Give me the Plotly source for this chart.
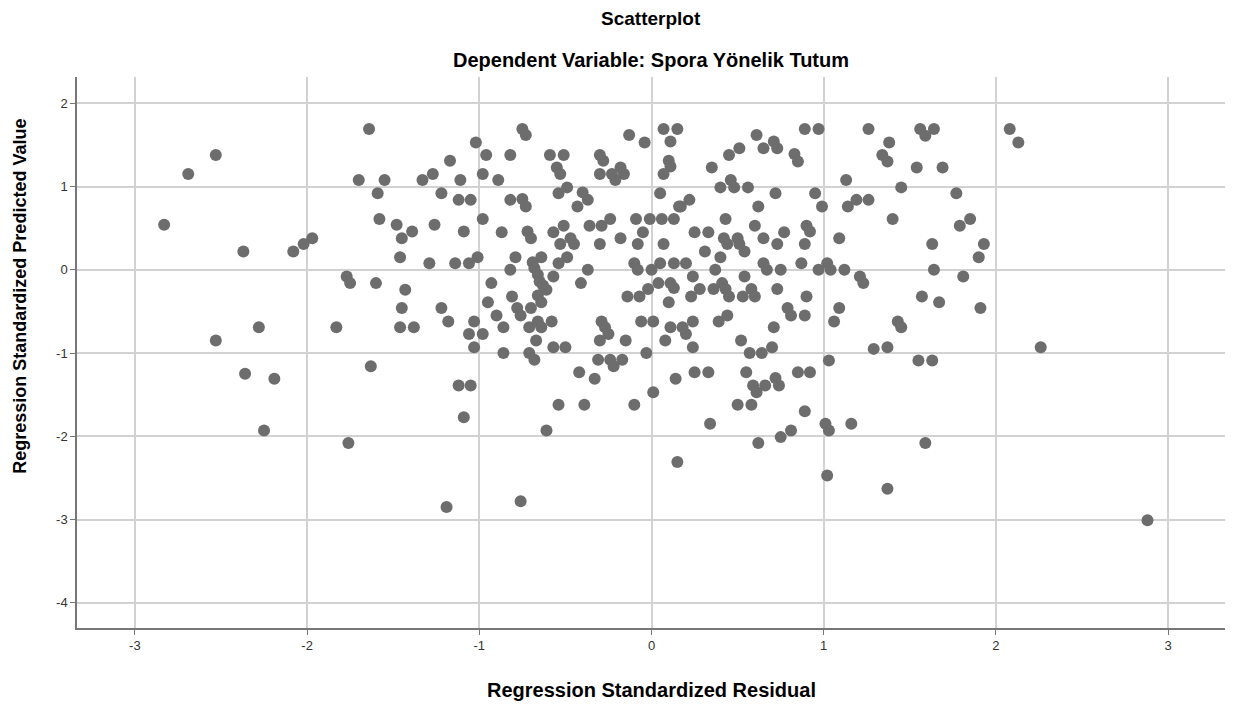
import plotly.graph_objects as go

# Regression Standardized Residual (x) and Regression Standardized Predicted Value (y)
resid = [
    -2.53, -2.69, -2.83, -2.37, -2.28, -2.53, -2.36, -2.19, -2.25,
    -1.64, -1.02, -1.17, -1.27, -1.70, -1.55, -1.33, -1.11, -1.59, -1.22, -1.12, -1.05,
    -1.58, -1.48, -1.26, -1.39, -1.45, -1.09, -1.97, -2.02, -2.08, -1.46, -1.29, -1.14,
    -1.06, -1.01, -1.77, -1.75, -1.60, -1.43, -1.45, -1.22, -1.18, -1.83, -1.46, -1.38,
    -1.03, -1.06, -1.03, -1.63, -1.12, -1.05, -1.09, -1.76, -1.19,
    -0.75, -0.73, -0.13, -0.04, 0.07, 0.15, 0.11, -0.96, -0.82, -0.59, -0.51, -0.30, -0.28,
    -0.55, -0.53, -0.18, -0.16, -0.23, -0.21, -0.30, 0.10, 0.11, 0.07, -0.98, -0.89,
    -0.49, -0.54, -0.40, -0.37, -0.43, -0.82, -0.75, -0.73, 0.05, 0.16,
    -0.98, -0.87, -0.72, -0.70, -0.57, -0.51, -0.47, -0.45, -0.53, -0.36, -0.29, -0.24,
    -0.18, -0.30, -0.09, -0.01, 0.06, 0.13, -0.05, -0.08, 0.07,
    -0.79, -0.64, -0.49, -0.54, -0.69, -0.68, -0.66, -0.65, -0.63, -0.61, -0.82, -0.57,
    -0.37, -0.41, -0.10, -0.08, 0.00, 0.05, 0.13, 0.04, 0.11, 0.13, -0.02, -0.07, -0.14,
    0.10, -0.93, -0.81, -0.95, -0.90, -0.78, -0.76, -0.70, -0.66, -0.64, -0.86, -0.71,
    -0.66, -0.64, -0.58, -0.98, -0.67, -0.57, -0.50, -0.86, -0.71, -0.29, -0.27, -0.25,
    -0.30, -0.15, -0.06, 0.01, 0.11, 0.08, -0.03,
    -0.68, -0.31, -0.24, -0.22, -0.17, -0.42, -0.33, -0.54, -0.39, -0.10, 0.01, 0.14,
    -0.61, 0.15, -0.76,
    0.89, 0.97, 1.26, 0.61, 0.71, 0.73, 0.65, 0.51, 0.45, 0.83, 0.85, 0.35, 0.40, 0.46,
    0.48, 0.56, 1.13, 0.72, 0.95, 0.99, 0.17, 0.22, 1.14, 1.19, 1.26, 0.62, 0.43, 0.60,
    0.90, 0.92, 0.25, 0.33, 0.42, 0.44, 0.50, 0.51, 0.54, 0.65, 0.77, 0.73, 0.89, 1.09,
    0.31, 0.40, 0.20, 0.37, 0.65, 0.67, 0.75, 0.87, 0.97, 1.02, 1.04, 1.12, 1.21, 1.23,
    0.24, 0.54, 0.28, 0.36, 0.41, 0.43, 0.45, 0.23, 0.53, 0.58, 0.60, 0.73, 0.90, 0.79,
    0.81, 0.89, 1.09, 1.06, 0.44, 0.39, 0.24, 0.18, 0.20, 0.71, 0.52, 0.24, 0.57, 0.64,
    0.70, 1.29,
    1.03, 0.25, 0.33, 0.55, 0.59, 0.61, 0.66, 0.72, 0.74, 0.85, 0.92, 0.50, 0.58, 0.89,
    0.34, 0.62, 0.75, 0.81, 1.01, 1.03, 1.16, 1.02,
    1.56, 1.59, 1.64, 1.38, 1.34, 1.37, 2.08, 2.13, 1.54, 1.69, 1.45, 1.77, 1.40, 1.85,
    1.79, 1.63, 1.93, 1.90, 1.64, 1.81, 1.57, 1.67, 1.91, 1.43, 1.45, 1.37, 2.26,
    1.55, 1.63, 1.59, 1.37, 2.88,
]
pred = [
    1.38, 1.15, 0.54, 0.22, -0.69, -0.85, -1.25, -1.31, -1.93,
    1.69, 1.53, 1.31, 1.15, 1.08, 1.08, 1.08, 1.08, 0.92, 0.92, 0.84, 0.84,
    0.61, 0.54, 0.54, 0.46, 0.38, 0.46, 0.38, 0.31, 0.22, 0.15, 0.08, 0.08,
    0.08, 0.15, -0.08, -0.16, -0.16, -0.24, -0.46, -0.46, -0.62, -0.69, -0.69, -0.69,
    -0.62, -0.77, -0.93, -1.16, -1.39, -1.39, -1.77, -2.08, -2.85,
    1.69, 1.62, 1.62, 1.53, 1.69, 1.69, 1.54, 1.38, 1.38, 1.38, 1.38, 1.38, 1.31,
    1.23, 1.15, 1.23, 1.15, 1.15, 1.08, 1.15, 1.31, 1.24, 1.15, 1.15, 1.08,
    0.99, 0.92, 0.93, 0.84, 0.76, 0.84, 0.85, 0.76, 0.92, 0.76,
    0.61, 0.45, 0.46, 0.38, 0.45, 0.53, 0.38, 0.31, 0.31, 0.53, 0.53, 0.61,
    0.38, 0.31, 0.61, 0.61, 0.61, 0.61, 0.45, 0.31, 0.31,
    0.15, 0.15, 0.15, 0.08, 0.09, 0.02, -0.06, -0.14, -0.19, -0.24, 0.00, -0.08,
    0.00, -0.16, 0.08, 0.00, 0.00, 0.08, 0.08, -0.16, -0.16, -0.22, -0.23, -0.32, -0.32,
    -0.39, -0.16, -0.32, -0.39, -0.55, -0.46, -0.55, -0.46, -0.31, -0.39, -0.69, -0.69,
    -0.62, -0.69, -0.62, -0.77, -0.85, -0.93, -0.93, -1.00, -1.00, -0.62, -0.69, -0.77,
    -0.85, -0.85, -0.62, -0.62, -0.69, -0.85, -1.00,
    -1.08, -1.08, -1.08, -1.16, -1.08, -1.23, -1.31, -1.62, -1.62, -1.62, -1.47, -1.31,
    -1.93, -2.31, -2.78,
    1.69, 1.69, 1.69, 1.62, 1.54, 1.46, 1.46, 1.46, 1.38, 1.39, 1.30, 1.23, 0.99, 1.08,
    0.99, 0.99, 1.08, 0.92, 0.92, 0.76, 0.76, 0.84, 0.76, 0.84, 0.84, 0.76, 0.61, 0.53,
    0.53, 0.46, 0.45, 0.45, 0.38, 0.31, 0.38, 0.31, 0.22, 0.38, 0.45, 0.31, 0.31, 0.38,
    0.22, 0.15, 0.08, 0.00, 0.08, 0.00, 0.00, 0.08, 0.00, 0.08, 0.00, 0.00, -0.08, -0.16,
    -0.08, -0.08, -0.23, -0.23, -0.16, -0.23, -0.32, -0.32, -0.32, -0.23, -0.32, -0.23, -0.32, -0.46,
    -0.55, -0.55, -0.46, -0.62, -0.55, -0.62, -0.62, -0.69, -0.77, -0.69, -0.85, -0.93, -1.00, -1.00,
    -0.93, -0.95,
    -1.09, -1.23, -1.23, -1.23, -1.39, -1.47, -1.39, -1.30, -1.39, -1.23, -1.23, -1.62, -1.62, -1.70,
    -1.85, -2.08, -2.01, -1.93, -1.85, -1.93, -1.85, -2.47,
    1.69, 1.61, 1.69, 1.53, 1.38, 1.30, 1.69, 1.53, 1.23, 1.23, 0.99, 0.92, 0.61, 0.61,
    0.53, 0.31, 0.31, 0.15, 0.00, -0.08, -0.32, -0.39, -0.46, -0.62, -0.69, -0.93, -0.93,
    -1.09, -1.09, -2.08, -2.63, -3.01,
]

x_ticks = [-3, -2, -1, 0, 1, 2, 3]
y_ticks = [-4, -3, -2, -1, 0, 1, 2]

FONT = "Arial, Liberation Sans, sans-serif"

fig = go.Figure()
fig.add_trace(go.Scatter(
    x=resid, y=pred, mode="markers",
    marker=dict(size=12, color="#6d6d6d", line=dict(width=0)),
    hoverinfo="x+y", showlegend=False,
))

axis_common = dict(
    showgrid=True, gridcolor="#d2d2d2", gridwidth=1.5,
    zeroline=False, showline=True, linecolor="#777777", linewidth=1.5,
    ticks="outside", ticklen=5, tickcolor="#777777",
    tickfont=dict(family=FONT, size=13, color="#333333"),
)

fig.update_xaxes(range=[-3.336, 3.330], tickvals=x_ticks, ticktext=[str(v) for v in x_ticks],
                 **axis_common)
fig.update_yaxes(range=[-4.303, 2.316], tickvals=y_ticks, ticktext=[str(v) for v in y_ticks],
                 **axis_common)

fig.update_layout(
    width=1235, height=707,
    margin=dict(l=77, r=10, t=77, b=79),
    plot_bgcolor="white", paper_bgcolor="white",
    font=dict(family=FONT),
    annotations=[
        dict(text="<b>Scatterplot</b>", xref="paper", yref="paper", x=0.5, y=1.107,
             xanchor="center", yanchor="middle", showarrow=False,
             font=dict(family=FONT, size=19, color="#000000")),
        dict(text="<b>Dependent Variable: Spora Yönelik Tutum</b>", xref="paper", yref="paper",
             x=0.5, y=1.031, xanchor="center", yanchor="middle", showarrow=False,
             font=dict(family=FONT, size=20, color="#000000")),
        dict(text="<b>Regression Standardized Residual</b>", xref="paper", yref="paper",
             x=0.5, y=-0.1125, xanchor="center", yanchor="middle", showarrow=False,
             font=dict(family=FONT, size=20, color="#000000")),
        dict(text="<b>Regression Standardized Predicted Value</b>", xref="paper", yref="paper",
             x=-0.0497, y=0.603, xanchor="center", yanchor="middle", showarrow=False,
             textangle=-90, font=dict(family=FONT, size=18, color="#000000")),
    ],
)

fig.write_html("out.html")
